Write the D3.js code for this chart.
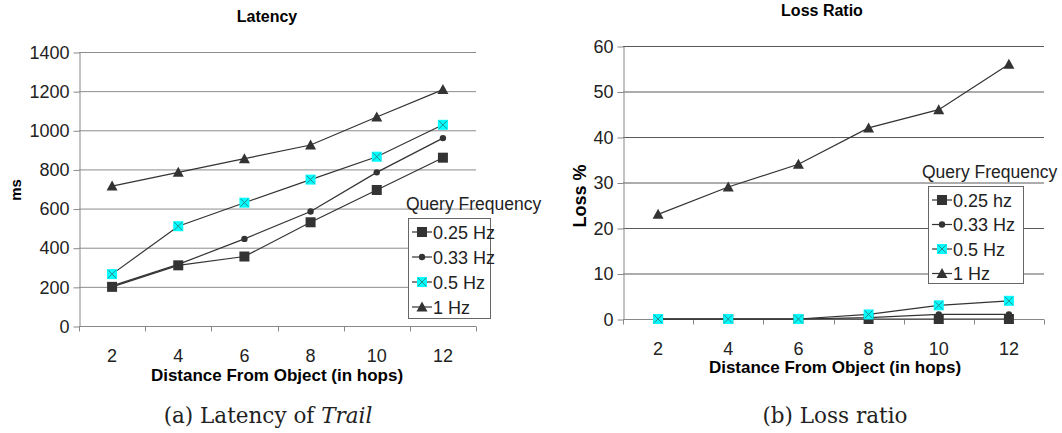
<!DOCTYPE html>
<html>
<head>
<meta charset="utf-8">
<script src="https://cdn.jsdelivr.net/npm/d3@7"></script>
<style>
  body { margin: 0; background: #fff; }
  svg { display: block; font-family: "Liberation Sans", Arial, sans-serif; }
</style>
</head>
<body>
<div id="vis-cont"></div>
<script>
// data
var hops = [2, 4, 6, 8, 10, 12];
var seriesNames = ["0.25 Hz", "0.33 Hz", "0.5 Hz", "1 Hz"];
var lossNames = ["0.25 hz", "0.33 Hz", "0.5 Hz", "1 Hz"];
var markers = ["square", "circle", "cross", "triangle"];

var latency025 = [200, 310, 355, 530, 695, 860];
var latency033 = [205, 315, 445, 585, 785, 960];
var latency05 = [265, 510, 630, 748, 865, 1028];
var latency1 = [715, 785, 855, 925, 1068, 1208];

var loss025 = [0, 0, 0, 0, 0, 0];
var loss033 = [0, 0, 0, 0.3, 1, 1];
var loss05 = [0, 0, 0, 1, 3, 4];
var loss1 = [23, 29, 34, 42, 46, 56];

var latencyTicks = [0, 200, 400, 600, 800, 1000, 1200, 1400];
var lossTicks = [0, 10, 20, 30, 40, 50, 60];

var svg = d3.select("#vis-cont").append("svg")
    .attr("width", 1062).attr("height", 433);

function drawMarker(g, type, cx, cy) {
  if (type === "square") {
    g.append("rect").attr("x", cx - 5).attr("y", cy - 5).attr("width", 10).attr("height", 10)
      .attr("fill", "#333");
  } else if (type === "circle") {
    g.append("circle").attr("cx", cx).attr("cy", cy).attr("r", 3.2).attr("fill", "#333");
  } else if (type === "cross") {
    g.append("rect").attr("x", cx - 5).attr("y", cy - 5).attr("width", 10).attr("height", 10)
      .attr("fill", "#00ffff");
    g.append("path").attr("d", "M" + (cx - 4) + "," + (cy - 4) + "L" + (cx + 4) + "," + (cy + 4) +
        "M" + (cx + 4) + "," + (cy - 4) + "L" + (cx - 4) + "," + (cy + 4))
      .attr("stroke", "#2a8a8a").attr("stroke-width", 1).attr("fill", "none");
  } else {
    g.append("path").attr("d", "M" + cx + "," + (cy - 5.5) + "L" + (cx + 5.5) + "," + (cy + 4.5) +
        "L" + (cx - 5.5) + "," + (cy + 4.5) + "Z").attr("fill", "#333");
  }
}

function drawChart(opt) {
  var x = d3.scaleBand().domain(hops).range([opt.left, opt.right]);
  var y = d3.scaleLinear().domain([0, opt.max]).range([opt.bottom, opt.top]);
  var g = svg.append("g");

  // grid
  g.selectAll(".grid").data(opt.ticks.slice(1)).enter().append("line")
    .attr("x1", opt.left).attr("x2", opt.right)
    .attr("y1", function(d) { return y(d) + 0.5; }).attr("y2", function(d) { return y(d) + 0.5; })
    .attr("stroke", opt.gridColor).attr("stroke-width", 1);

  // y axis
  var ya = g.append("g").attr("transform", "translate(" + (opt.left + 0.5) + ",0.5)")
    .call(d3.axisLeft(y).tickValues(opt.ticks).tickFormat(d3.format("d"))
      .tickSize(6).tickSizeOuter(0).tickPadding(4));
  ya.select(".domain").attr("stroke", "#888");
  ya.selectAll(".tick line").attr("stroke", "#888");
  ya.selectAll("text").attr("font-size", 18).attr("fill", "#222")
    .attr("font-family", "Liberation Sans, Arial, sans-serif");

  // x axis, ticks between categories
  var xa = g.append("g").attr("transform", "translate(0," + (opt.bottom + 0.5) + ")");
  var edges = hops.map(function(d) { return x(d); }).concat([opt.right]);
  xa.append("line").attr("x1", opt.left).attr("x2", opt.right).attr("stroke", "#888");
  xa.selectAll(".xt").data(edges).enter().append("line")
    .attr("x1", function(d) { return Math.round(d) + 0.5; }).attr("x2", function(d) { return Math.round(d) + 0.5; })
    .attr("y1", 0).attr("y2", 5).attr("stroke", "#888");
  xa.selectAll(".xl").data(hops).enter().append("text")
    .attr("x", function(d) { return x(d) + x.bandwidth() / 2; }).attr("y", 35)
    .attr("text-anchor", "middle").attr("font-size", 18).attr("fill", "#222")
    .text(function(d) { return d; });

  // lines and markers
  var line = d3.line()
    .x(function(d, i) { return x(hops[i]) + x.bandwidth() / 2; })
    .y(function(d) { return y(d); });
  opt.series.forEach(function(s, k) {
    g.append("path").datum(s).attr("d", line).attr("fill", "none")
      .attr("stroke", "#333").attr("stroke-width", 1.2);
  });
  opt.series.forEach(function(s, k) {
    var mg = g.append("g");
    s.forEach(function(v, i) {
      drawMarker(mg, markers[k], x(hops[i]) + x.bandwidth() / 2, y(v));
    });
  });

  // titles
  g.append("text").attr("x", opt.titleX).attr("y", opt.titleY).attr("text-anchor", "middle")
    .attr("font-size", 16).attr("font-weight", "bold").text(opt.title);
  g.append("text").attr("transform", "translate(" + opt.yTitleX + "," + opt.yTitleY + ") rotate(-90)")
    .attr("text-anchor", "middle").attr("font-size", opt.yTitleSize).attr("font-weight", "bold").text(opt.yTitle);
  g.append("text").attr("x", opt.xTitleX).attr("y", opt.xTitleY).attr("text-anchor", "middle")
    .attr("font-size", 17).attr("font-weight", "bold").text("Distance From Object (in hops)");

  // legend
  var lg = g.append("g");
  lg.append("text").attr("x", opt.legTitleX).attr("y", opt.legY - 8).attr("font-size", 17.5)
    .attr("fill", "#222").text("Query Frequency");
  lg.append("rect").attr("x", opt.legX + 0.5).attr("y", opt.legY + 0.5)
    .attr("width", opt.legW).attr("height", opt.legH)
    .attr("fill", "#fff").attr("stroke", "#666");
  opt.names.forEach(function(n, k) {
    var cy = opt.legY + 14 + k * opt.legStep;
    lg.append("line").attr("x1", opt.legX + 4).attr("x2", opt.legX + 24)
      .attr("y1", cy).attr("y2", cy).attr("stroke", "#333").attr("stroke-width", 1.2);
    drawMarker(lg, markers[k], opt.legX + 14, cy);
    lg.append("text").attr("x", opt.legX + 25).attr("y", cy + 6.5).attr("font-size", 18)
      .attr("fill", "#222").text(n);
  });

  // caption
  svg.append("text").attr("x", opt.capX).attr("y", opt.capY).attr("text-anchor", "middle")
    .attr("font-family", "DejaVu Serif, serif").attr("font-size", 21.5).attr("fill", "#222")
    .html(opt.caption);
}

drawChart({
  left: 79, right: 476, top: 52, bottom: 326, max: 1400,
  ticks: latencyTicks, gridColor: "#8c8c8c",
  series: [latency025, latency033, latency05, latency1], names: seriesNames,
  title: "Latency", titleX: 267, titleY: 22,
  yTitle: "ms", yTitleX: 21, yTitleY: 190, yTitleSize: 15,
  xTitleX: 277, xTitleY: 381,
  legX: 408, legY: 218, legW: 82, legH: 100, legStep: 25, legTitleX: 406,
  caption: "(a) Latency of <tspan font-style='italic'>Trail</tspan>", capX: 268, capY: 423
});

drawChart({
  left: 623, right: 1044, top: 46, bottom: 319, max: 60,
  ticks: lossTicks, gridColor: "#5a5a5a",
  series: [loss025, loss033, loss05, loss1], names: lossNames,
  title: "Loss Ratio", titleX: 822, titleY: 16,
  yTitle: "Loss %", yTitleX: 586, yTitleY: 196, yTitleSize: 18,
  xTitleX: 835, xTitleY: 373,
  legX: 928, legY: 186, legW: 95, legH: 97, legStep: 24.5, legTitleX: 922,
  caption: "(b) Loss ratio", capX: 835, capY: 423
});
</script>
</body>
</html>
